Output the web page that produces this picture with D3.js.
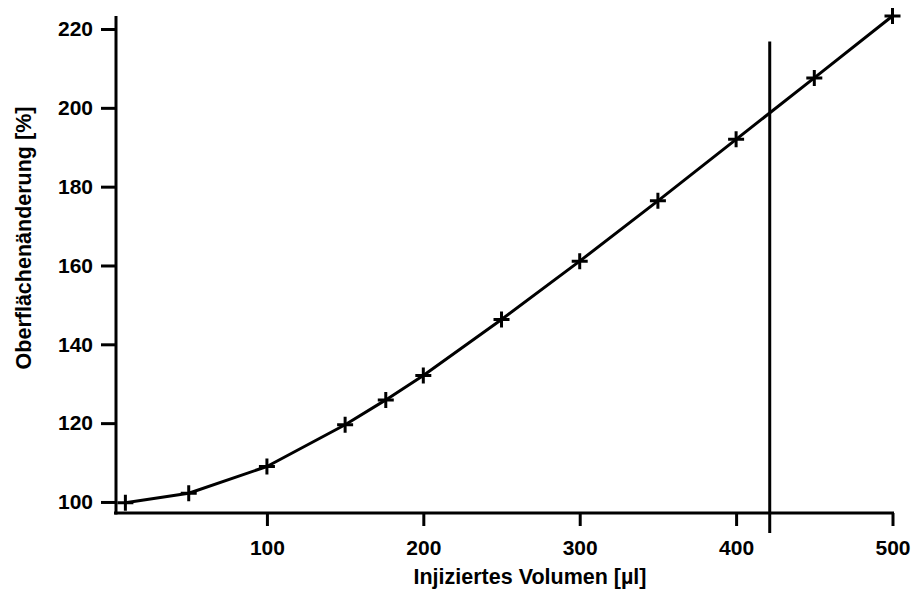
<!DOCTYPE html>
<html><head><meta charset="utf-8">
<script src="https://cdn.jsdelivr.net/npm/d3@7"></script>
<style>
html,body{margin:0;padding:0;background:#fff;}
svg{display:block;}
text{font-family:"Liberation Sans",Arial,sans-serif;font-weight:bold;fill:#000;}
</style></head>
<body>
<svg id="chart" width="914" height="591"></svg>
<script>
const volumes = [9.5, 50, 100, 150, 176, 200, 250, 300, 350, 400, 450, 500];
const surfaceChange = [99.8, 102.2, 109.0, 119.6, 125.9, 132.1, 146.3, 161.1, 176.4, 192.0, 207.6, 223.3];
const xTicks = [100, 200, 300, 400, 500];
const yTicks = [100, 120, 140, 160, 180, 200, 220];
const markerLineX = [421.5];
const markerLineTop = [216.8];
const xTitle = "Injiziertes Volumen [µl]";
const yTitle = "Oberflächenänderung [%]";

const svg = d3.select("#chart");
const xMin = 3.5, yMin = 97.2, yMax = 223.3;
const x = d3.scaleLinear().domain([xMin, 500]).range([116, 892.5]);
const y = d3.scaleLinear().domain([yMin, yMax]).range([513, 16]);

const xAxis = d3.axisBottom(x).tickValues(xTicks).tickSize(13).tickSizeOuter(0).tickPadding(14);
const yAxis = d3.axisLeft(y).tickValues(yTicks).tickSize(15).tickSizeOuter(0).tickPadding(8);

const gx = svg.append("g").attr("transform", `translate(0,${y(yMin)})`).call(xAxis);
const gy = svg.append("g").attr("transform", `translate(${x(xMin)},0)`).call(yAxis);
[gx, gy].forEach(g => {
  g.select(".domain").attr("stroke", "#000").attr("stroke-width", 3);
  g.selectAll(".tick line").attr("stroke", "#000").attr("stroke-width", 3);
  g.selectAll(".tick text").style("font-size", "21px").style("font-family", "'Liberation Sans',Arial,sans-serif").style("font-weight", "bold").attr("fill", "#000");
});
gx.select(".domain").attr("d", `M${x(xMin)-2},0H${x(500)+1.5}`);
gy.select(".domain").attr("d", `M0,${y(yMax)}V${y(yMin)+1.5}`);

// vertical marker line
svg.selectAll("line.vmark").data(markerLineX).enter().append("line")
  .attr("class", "vmark")
  .attr("x1", d => x(d)).attr("x2", d => x(d))
  .attr("y1", (d, i) => y(markerLineTop[i])).attr("y2", y(yMin) + 20)
  .attr("stroke", "#000").attr("stroke-width", 3);

// data line
const pts = volumes.map((v, i) => [v, surfaceChange[i]]);
svg.append("path").datum(pts)
  .attr("fill", "none").attr("stroke", "#000").attr("stroke-width", 3)
  .attr("stroke-linejoin", "round")
  .attr("d", d3.line().x(d => x(d[0])).y(d => y(d[1])));

// plus markers
const m = svg.append("g");
pts.forEach(d => {
  const cx = x(d[0]), cy = y(d[1]);
  m.append("path").attr("d", `M${cx-8},${cy}H${cx+8}M${cx},${cy-8}V${cy+8}`)
    .attr("stroke", "#000").attr("stroke-width", 3).attr("fill", "none");
});

// titles
svg.append("text").attr("x", 530).attr("y", 584).attr("text-anchor", "middle")
  .style("font-size", "21.5px").text(xTitle);
svg.append("text").attr("transform", "translate(31,238) rotate(-90)").attr("text-anchor", "middle")
  .style("font-size", "21.5px").text(yTitle);
</script>
</body></html>
